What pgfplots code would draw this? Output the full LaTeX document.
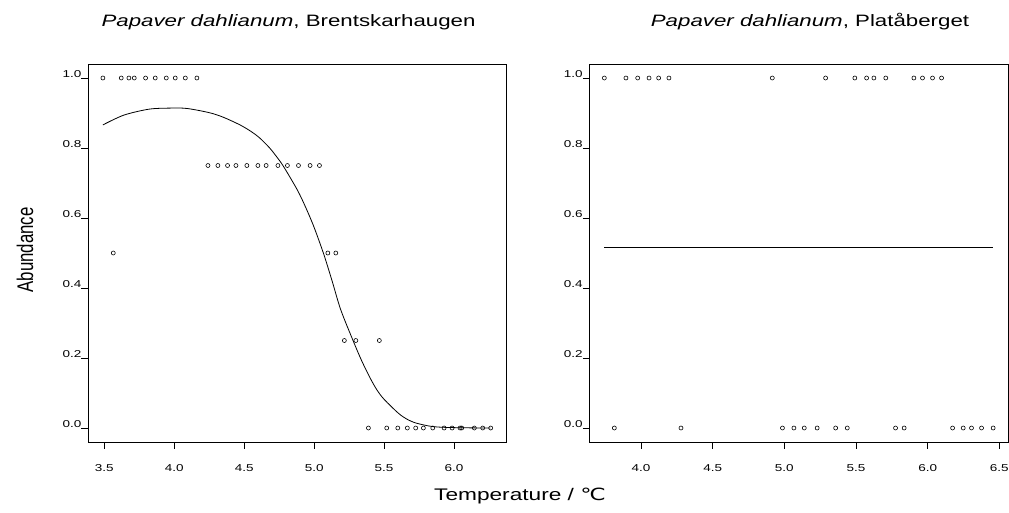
\documentclass[border=0pt]{standalone}
\usepackage{pgfplots}
\pgfplotsset{compat=1.18}
\usepackage{graphicx}
\usepackage{fontspec}
\setmainfont{Liberation Sans}
\newfontfamily\dejavu{DejaVu Sans}
\newcommand{\hs}[1]{\scalebox{1.35}[1]{#1}}

\pgfplotsset{
  panel/.style={
    scale only axis,
    height=378pt,
    ymin=-0.04, ymax=1.04,
    axis line style={line width=0.8pt},
    tick align=outside,
    major tick length=6.5pt,
    xtick pos=bottom, ytick pos=left,
    tick style={black, line width=0.8pt},
    ytick={0,0.2,0.4,0.6,0.8,1},
    /pgf/number format/assume math mode=true,
    yticklabel={\hs{\pgfmathprintnumber[fixed,fixed zerofill,precision=1]{\tick}}},
    xticklabel={\hs{\pgfmathprintnumber[fixed,fixed zerofill,precision=1]{\tick}}},
    tick label style={font=\fontsize{10}{12}\selectfont},
    yticklabel style={anchor=south east, inner sep=0pt},
    xticklabel style={anchor=north, inner sep=0pt, yshift=-15.5pt},
    mark size=2pt,
  },
  pts/.style={only marks, mark=o, black, mark options={line width=0.6pt}},
}

\begin{document}
\begin{tikzpicture}
\useasboundingbox (0pt,0pt) rectangle (1009pt,-512pt);

% ---------- left panel ----------
\begin{axis}[panel, width=418.7pt, at={(88pt,-442pt)}, anchor=south west,
  xmin=3.3835, xmax=6.3764, xtick={3.5,4.0,4.5,5.0,5.5,6.0}]
\addplot[smooth, black, line width=0.8pt] coordinates {
 (3.49,0.866) (3.64,0.894) (3.82,0.911) (3.97,0.914) (4.09,0.913) (4.25,0.901)
 (4.35,0.888) (4.47,0.866) (4.55,0.847) (4.61,0.829) (4.68,0.801) (4.73,0.776)
 (4.78,0.748) (4.88,0.680) (4.94,0.630) (5.00,0.573) (5.07,0.495) (5.13,0.418)
 (5.19,0.338) (5.28,0.248) (5.34,0.192) (5.40,0.143) (5.45,0.108) (5.50,0.082)
 (5.60,0.043) (5.66,0.026) (5.73,0.014) (5.85,0.004) (6.01,0.001) (6.26,0.000)};
\addplot[pts] coordinates {
 (3.490,1) (3.621,1) (3.676,1) (3.714,1) (3.795,1) (3.864,1) (3.943,1) (4.007,1) (4.079,1) (4.162,1)
 (4.241,0.75) (4.312,0.75) (4.381,0.75) (4.441,0.75) (4.519,0.75) (4.598,0.75)
 (4.657,0.75) (4.741,0.75) (4.809,0.75) (4.888,0.75) (4.971,0.75) (5.038,0.75)
 (3.564,0.5) (5.098,0.5) (5.155,0.5)
 (5.216,0.25) (5.298,0.25) (5.466,0.25)
 (5.388,0) (5.519,0) (5.598,0) (5.666,0) (5.726,0) (5.781,0) (5.848,0)
 (5.929,0) (5.986,0) (6.043,0) (6.055,0) (6.145,0) (6.205,0) (6.262,0)};
\end{axis}

% ---------- right panel ----------
\begin{axis}[panel, width=419.2pt, at={(589.3pt,-442pt)}, anchor=south west,
  xmin=3.6393, xmax=6.5642, xtick={4.0,4.5,5.0,5.5,6.0,6.5}]
\addplot[black, line width=0.8pt] coordinates {(3.744,0.516) (6.457,0.516)};
\addplot[pts] coordinates {
 (3.744,1) (3.895,1) (3.977,1) (4.056,1) (4.123,1) (4.195,1) (4.916,1) (5.288,1)
 (5.492,1) (5.574,1) (5.625,1) (5.708,1) (5.904,1) (5.964,1) (6.034,1) (6.097,1)
 (3.814,0) (4.279,0) (4.987,0) (5.067,0) (5.139,0) (5.229,0) (5.358,0) (5.439,0)
 (5.776,0) (5.836,0) (6.174,0) (6.248,0) (6.306,0) (6.376,0) (6.457,0)};
\end{axis}

% ---------- titles and labels ----------
\node[font=\fontsize{16.5}{20}\selectfont] at (288.5pt,-22pt) {\hs{\textit{Papaver dahlianum}, Brentskarhaugen}};
\node[font=\fontsize{16.5}{20}\selectfont] at (810pt,-22pt) {\hs{\textit{Papaver dahlianum}, Platåberget}};
\node[rotate=90, font=\fontsize{16.8}{20}\selectfont] at (25pt,-250pt) {\scalebox{1}[1.35]{Abundance}};
\node[font=\fontsize{16.8}{20}\selectfont] at (520pt,-496pt) {\hs{Temperature / {\dejavu ℃}}};
\end{tikzpicture}
\end{document}
